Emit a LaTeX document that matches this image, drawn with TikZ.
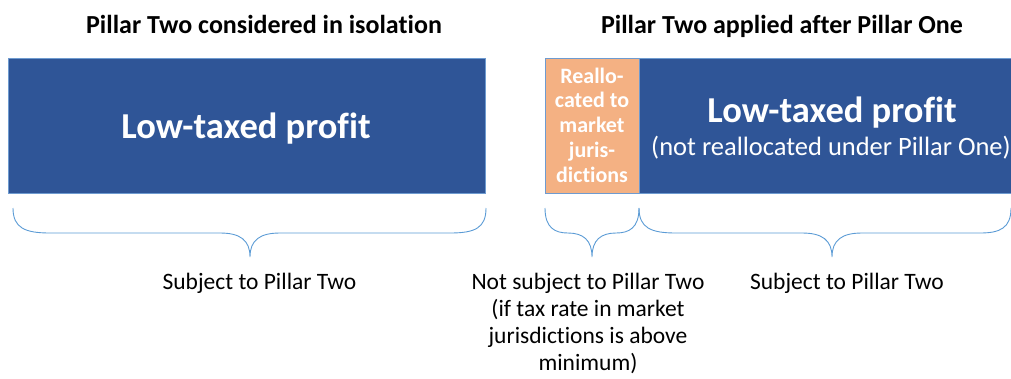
\documentclass[tikz,border=0pt]{standalone}
\usepackage{fontspec}
\setmainfont[Ligatures={NoCommon}]{Carlito}
\definecolor{boxblue}{HTML}{2F5597}
\definecolor{boxorange}{HTML}{F4B183}
\definecolor{edgeblue}{HTML}{6E9BD0}
\definecolor{bracecol}{HTML}{5B9BD5}
\tikzset{
  bluebox/.style={fill=boxblue,draw=edgeblue,line width=0.8pt,inner sep=0pt},
  orangebox/.style={fill=boxorange,draw=edgeblue,line width=0.8pt,inner sep=0pt},
  title/.style={font=\fontsize{26}{30}\selectfont\bfseries,anchor=base,inner sep=0pt},
  bigtxt/.style={font=\fontsize{36.5}{40}\selectfont\bfseries,text=white,anchor=base,inner sep=0pt},
  subtxt/.style={font=\fontsize{26.5}{30}\selectfont,text=white,anchor=base,inner sep=0pt},
  orangetxt/.style={font=\fontsize{22}{24.75}\selectfont\bfseries,text=white,align=center,anchor=base,inner sep=0pt},
  label/.style={font=\fontsize{23.5}{27}\selectfont,align=center,anchor=base,inner sep=0pt},
  brace/.style={draw=bracecol,line width=0.9pt}
}
\begin{document}
\begin{tikzpicture}[x=1pt,y=-1pt]
\useasboundingbox (0,0) rectangle (1011,378);
\node[title] (t1) at (264,33) {Pillar Two considered in isolation};
\node[title] (t2) at (782,33) {Pillar Two applied after Pillar One};
% left box
\node[bluebox,minimum width=477pt,minimum height=135pt] (b1) at (246.5,125.5) {};
\node[bigtxt] (b1t) at (246,138) {Low-taxed profit};
% right boxes
\node[orangebox,minimum width=94pt,minimum height=135pt] (o1) at (592,125.5) {};
\node[orangetxt] (o1t) at (592,182) {Reallo-\\cated to\\market\\juris-\\dictions};
\node[bluebox,minimum width=380pt,minimum height=135pt,anchor=west] (b2) at (639,125.5) {};
\node[bigtxt] (b2t) at (832,122) {Low-taxed profit};
\node[subtxt] (b2s) at (831,155) {(not reallocated under Pillar One)};
% braces
\coordinate (l1) at (13,208); \coordinate (l2) at (486,208); \coordinate (lt) at (250,257);
\draw[brace] (l1) .. controls (13,228) and (25,233) .. (50,233) -- (220,233)
  .. controls (240,233) and (250,240) .. (lt) .. controls (250,240) and (260,233) .. (280,233)
  -- (450,233) .. controls (475,233) and (486,228) .. (l2);
\coordinate (s1) at (545,208); \coordinate (s2) at (639,208); \coordinate (st) at (592,257);
\draw[brace] (s1) .. controls (545,228) and (555,233) .. (568,233)
  .. controls (583,233) and (592,240) .. (st) .. controls (592,240) and (601,233) .. (616,233)
  .. controls (629,233) and (639,228) .. (s2);
\coordinate (r1) at (639,208); \coordinate (r2) at (1011,208); \coordinate (rt) at (832,257);
\draw[brace] (r1) .. controls (639,228) and (651,233) .. (676,233) -- (802,233)
  .. controls (822,233) and (832,240) .. (rt) .. controls (832,240) and (842,233) .. (862,233)
  -- (980,233) .. controls (1000,233) and (1011,228) .. (r2);
% labels
\node[label] (lab1) at (259.5,289) {Subject to Pillar Two};
\node[label] (lab2) at (588,370) {Not subject to Pillar Two\\(if tax rate in market\\jurisdictions is above\\minimum)};
\node[label] (lab3) at (847,289) {Subject to Pillar Two};
\end{tikzpicture}
\end{document}
